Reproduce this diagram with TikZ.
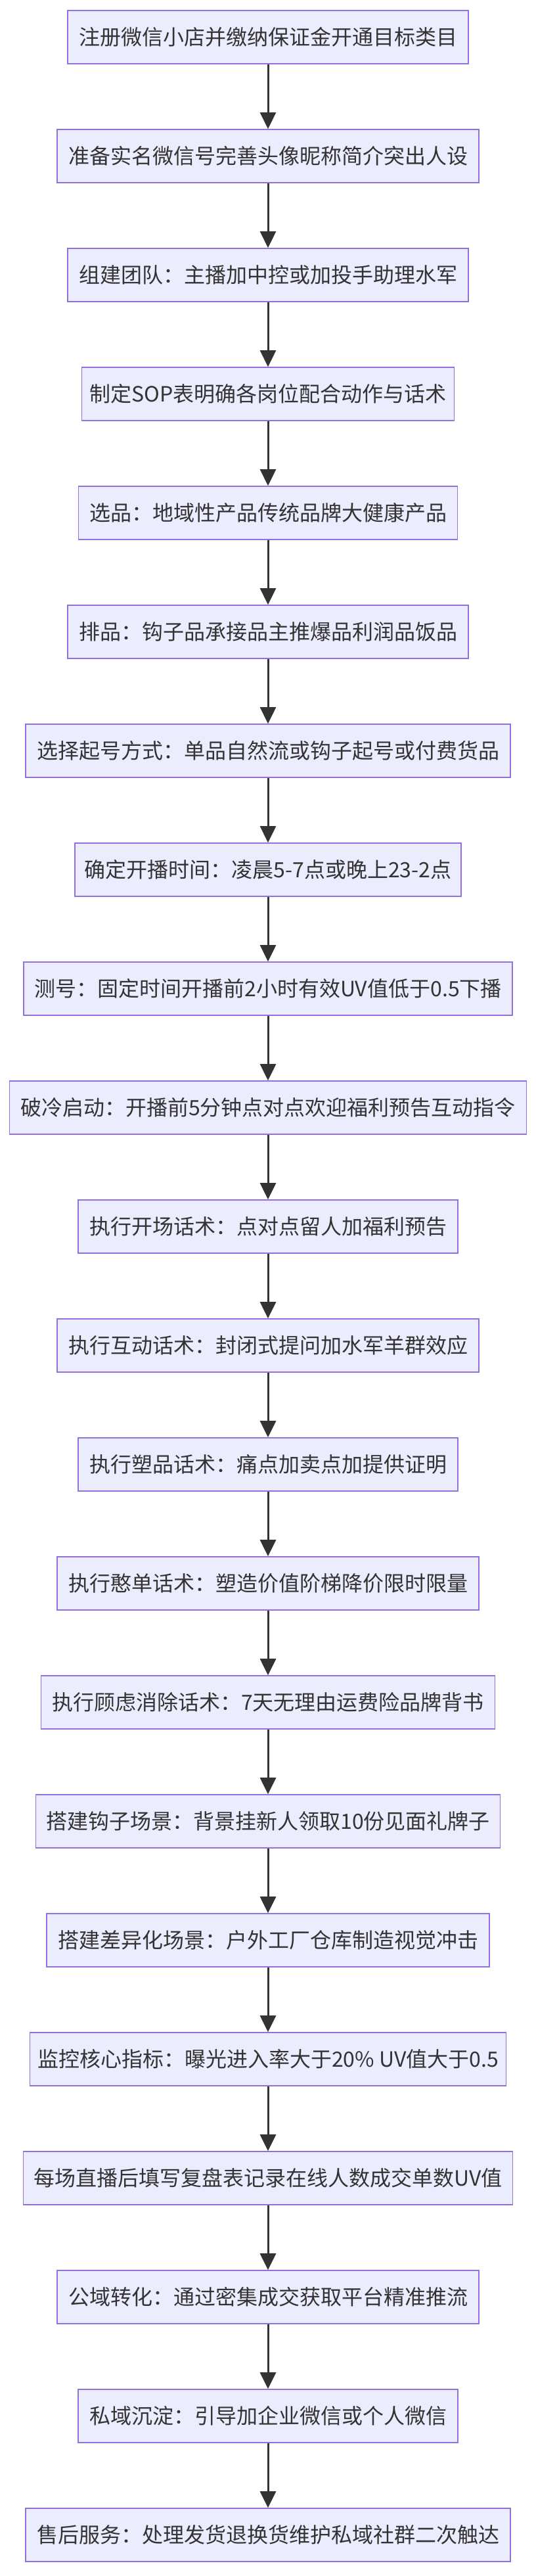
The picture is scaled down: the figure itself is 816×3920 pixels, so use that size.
\documentclass[tikz,border=0pt]{standalone}
\usepackage{fontspec}
\setmainfont{Noto Sans CJK SC}
\usetikzlibrary{arrows.meta}
\definecolor{nodefill}{HTML}{ECECFF}
\definecolor{nodeborder}{HTML}{9370DB}
\definecolor{linecol}{HTML}{333333}
\definecolor{textcol}{HTML}{333333}
\tikzset{
  stepbox/.style={draw=nodeborder, fill=nodefill, line width=1.7pt, text=textcol,
    minimum height=81pt, inner xsep=0pt, inner ysep=0pt, font=\fontsize{32pt}{38pt}\selectfont},
  flowarrow/.style={draw=linecol, line width=3pt, -{Triangle[length=25pt,width=24pt]}}
}
\begin{document}
\begin{tikzpicture}
\path[fill=white, use as bounding box] (0pt,0pt) rectangle (816pt,-3920pt);
\foreach \w/\t [count=\i] in {
  610/{注册微信小店并缴纳保证金开通目标类目},
  642/{准备实名微信号完善头像昵称简介突出人设},
  610/{组建团队：主播加中控或加投手助理水军},
  567/{制定SOP表明确各岗位配合动作与话术},
  577/{选品：地域性产品传统品牌大健康产品},
  610/{排品：钩子品承接品主推爆品利润品饭品},
  738/{选择起号方式：单品自然流或钩子起号或付费货品},
  588/{确定开播时间：凌晨5-7点或晚上23-2点},
  744/{测号：固定时间开播前2小时有效UV值低于0.5下播},
  787/{破冷启动：开播前5分钟点对点欢迎福利预告互动指令},
  578/{执行开场话术：点对点留人加福利预告},
  642/{执行互动话术：封闭式提问加水军羊群效应},
  578/{执行塑品话术：痛点加卖点加提供证明},
  642/{执行憨单话术：塑造价值阶梯降价限时限量},
  691/{执行顾虑消除话术：7天无理由运费险品牌背书},
  707/{搭建钩子场景：背景挂新人领取10份见面礼牌子},
  674/{搭建差异化场景：户外工厂仓库制造视觉冲击},
  725/{监控核心指标：曝光进入率大于20\% UV值大于0.5},
  745/{每场直播后填写复盘表记录在线人数成交单数UV值},
  642/{公域转化：通过密集成交获取平台精准推流},
  578/{私域沉淀：引导加企业微信或个人微信},
  738/{售后服务：处理发货退换货维护私域社群二次触达}
}{
  \node[stepbox, minimum width=\w pt] (n\i) at (408pt, {-(56.5+181*(\i-1))*1pt}) {\t};
}
\foreach \i [evaluate=\i as \j using int(\i+1)] in {1,...,21}{
  \draw[flowarrow] (n\i) -- (n\j);
}
\end{tikzpicture}
\end{document}
